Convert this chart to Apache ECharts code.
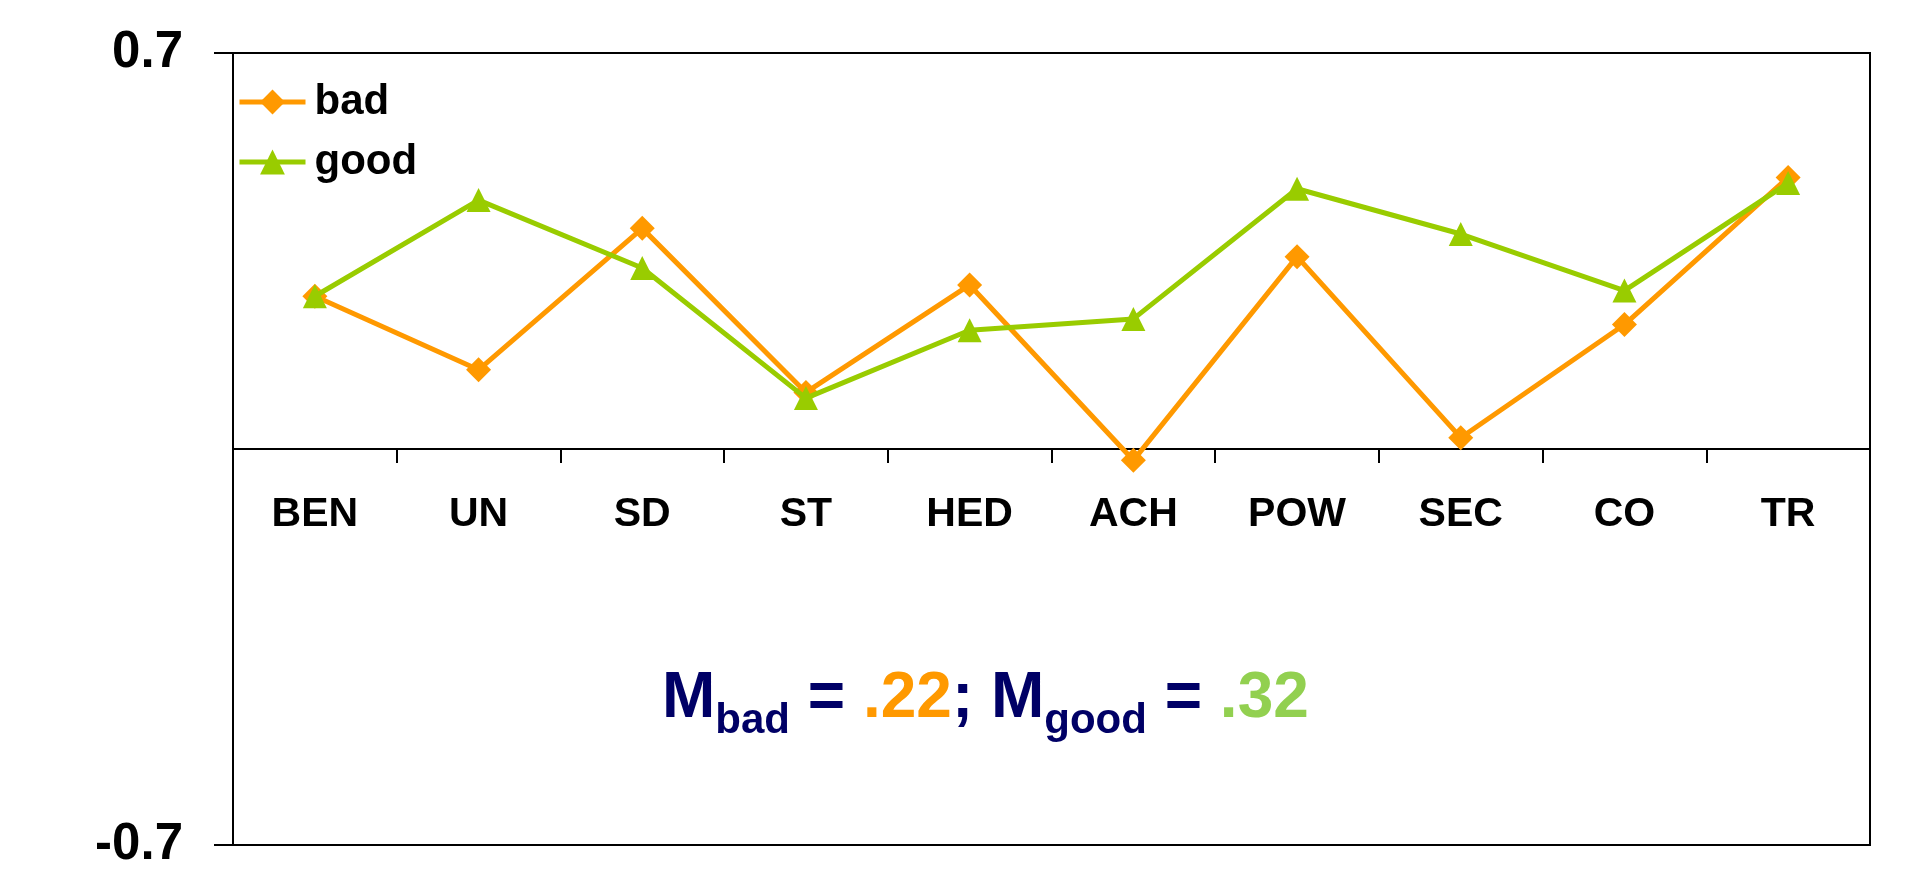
<!DOCTYPE html>
<html>
<head>
<meta charset="utf-8">
<script src="https://cdn.jsdelivr.net/npm/echarts@6/dist/echarts.min.js"></script>
<style>
  html, body { margin: 0; padding: 0; background: #ffffff; }
  #chart { width: 1913px; height: 872px; }
</style>
</head>
<body>
<div id="chart"></div>
<script>
// Value orientations per category, for the two groups
var categories = ['BEN', 'UN', 'SD', 'ST', 'HED', 'ACH', 'POW', 'SEC', 'CO', 'TR'];
var badValues  = [0.27, 0.14, 0.39, 0.10, 0.29, -0.02, 0.34, 0.02, 0.22, 0.48];
var goodValues = [0.27, 0.44, 0.32, 0.09, 0.21, 0.23, 0.46, 0.38, 0.28, 0.47];
var yMin = -0.7;
var yMax = 0.7;
var meanBad = '.22';
var meanGood = '.32';

var FONT = '"Liberation Sans", Arial, sans-serif';
var ORANGE = '#FF9900';
var GREEN = '#99CC00';

var chart = echarts.init(document.getElementById('chart'), null, { renderer: 'canvas' });

chart.setOption({
  animation: false,
  backgroundColor: '#ffffff',
  grid: {
    left: 233, top: 53, right: 43, bottom: 27,
    outerBoundsMode: 'none',
    containLabel: false,
    show: true, borderColor: '#000000', borderWidth: 2, backgroundColor: 'transparent'
  },
  legend: {
    orient: 'vertical',
    left: 237, top: 81,
    padding: 0,
    itemWidth: 66, itemHeight: 31, itemGap: 18,
    data: ['bad', 'good'],
    lineStyle: { width: 5 },
    textStyle: { fontFamily: FONT, fontWeight: 'bold', fontSize: 42, color: '#000000', padding: [0, 0, 0, 4] }
  },
  xAxis: {
    type: 'category',
    data: categories,
    boundaryGap: true,
    axisLine: { onZero: true, lineStyle: { color: '#000000', width: 2 } },
    axisTick: { show: true, length: 14, lineStyle: { color: '#000000', width: 2 } },
    axisLabel: {
      // category names sit just under the zero line
      interval: 0, margin: -351,
      fontFamily: FONT, fontWeight: 'bold', fontSize: 41, color: '#000000'
    },
    splitLine: { show: false }
  },
  yAxis: {
    type: 'value',
    min: yMin, max: yMax, interval: yMax - yMin,
    axisLine: { show: true, lineStyle: { color: '#000000', width: 2 } },
    axisTick: { show: true, length: 19, lineStyle: { color: '#000000', width: 2 } },
    axisLabel: {
      margin: 50,
      fontFamily: FONT, fontWeight: 'bold', fontSize: 51, color: '#000000'
    },
    splitLine: { show: false }
  },
  series: [
    {
      name: 'bad', type: 'line', data: badValues,
      symbol: 'diamond', symbolSize: 25,
      lineStyle: { color: ORANGE, width: 5 },
      itemStyle: { color: ORANGE },
      z: 3
    },
    {
      name: 'good', type: 'line', data: goodValues,
      symbol: 'triangle', symbolSize: 24,
      lineStyle: { color: GREEN, width: 5 },
      itemStyle: { color: GREEN },
      z: 4
    }
  ],
  graphic: [
    {
      type: 'text',
      left: 662, top: 667,
      style: {
        text: '{m|M}{sb|bad}{m| = }{o|' + meanBad + '}{m|; M}{sb|good}{m| = }{g|' + meanGood + '}',
        rich: {
          m:  { fontFamily: FONT, fontWeight: 'bold', fontSize: 64, lineHeight: 86, fill: '#000066', color: '#000066' },
          o:  { fontFamily: FONT, fontWeight: 'bold', fontSize: 64, lineHeight: 86, fill: ORANGE, color: ORANGE },
          g:  { fontFamily: FONT, fontWeight: 'bold', fontSize: 64, lineHeight: 86, fill: '#92D050', color: '#92D050' },
          sb: { fontFamily: FONT, fontWeight: 'bold', fontSize: 42, lineHeight: 42, verticalAlign: 'bottom', fill: '#000066', color: '#000066' }
        }
      }
    }
  ]
});
</script>
</body>
</html>
